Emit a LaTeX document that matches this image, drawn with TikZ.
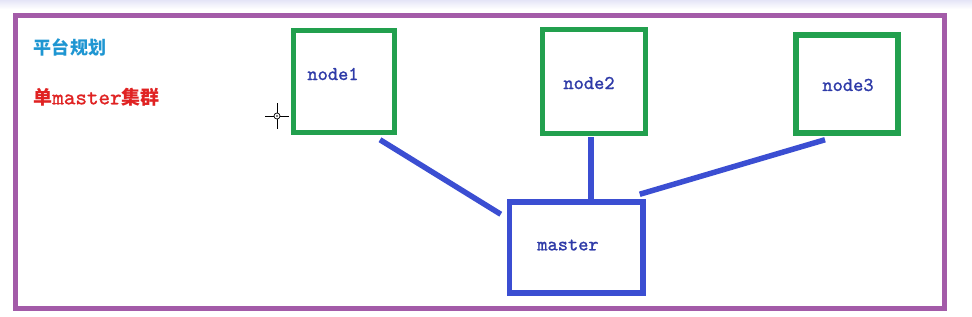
\documentclass[tikz,border=0pt]{standalone}
\usepackage{fontspec}
\newfontfamily\cjk{Noto Sans CJK SC}
\newfontfamily\monob[FakeBold=1.2]{lmmono10-regular.otf}
\usetikzlibrary{calc}
\definecolor{framepurple}{HTML}{A35BA8}
\definecolor{boxgreen}{HTML}{22A04E}
\definecolor{lineblue}{HTML}{3B4ED2}
\definecolor{textblue}{HTML}{2E3AA8}
\definecolor{titlecyan}{HTML}{1E96D2}
\definecolor{titlered}{HTML}{E02222}
\tikzset{
  gbox/.style={draw=boxgreen, line width=5.5pt, rectangle, inner sep=0pt},
  mbox/.style={draw=lineblue, line width=5.5pt, rectangle, inner sep=0pt},
  bline/.style={draw=lineblue, line width=5.5pt},
  lbl/.style={text=textblue, inner sep=0pt, font=\monob\fontsize{19.5}{21}\selectfont},
}
\begin{document}
\begin{tikzpicture}[x=1pt,y=-1pt]
\useasboundingbox (0,0) rectangle (972,316);
\fill[white] (0,0) rectangle (972,316);
\shade[top color=black!30!blue!10!white, bottom color=white] (0,0) rectangle (972,9);
% outer frame
\draw[framepurple, line width=5pt] (15.5,15) rectangle (944.5,308);
% titles
\node[text=titlecyan, inner sep=0pt, font=\cjk\bfseries\fontsize{18}{20}\selectfont] (t1) at (70,47) {平台规划};
\node[text=titlered, inner sep=0pt, font=\fontsize{19}{20}\selectfont] (t2) at (96.5,97) {{\cjk\bfseries 单}{\monob\fontsize{22}{20}\selectfont master}{\cjk\bfseries 集群}};
% boxes
\node[gbox, minimum width=101pt, minimum height=102pt] (n1) at (344,81.5) {};
\node[gbox, minimum width=103pt, minimum height=104pt] (n2) at (594,81.5) {};
\node[gbox, minimum width=102pt, minimum height=98pt] (n3) at (847,84) {};
\node[mbox, minimum width=133.5pt, minimum height=91pt] (m) at (576.25,247.5) {};
% labels
\node[lbl] (l1) at (333,74) {node1};
\node[lbl] (l2) at (589,83) {node2};
\node[lbl] (l3) at (848,85) {node3};
\node[lbl] (lm) at (568,245) {master};
% connectors
\draw[bline] ([xshift=36pt,yshift=-4.5pt]n1.south) -- ([xshift=-6pt,yshift=-15pt]m.north west);
\draw[bline] ([xshift=-3pt,yshift=-1pt]n2.south) -- ([xshift=-3pt]n2.south |- m.north);
\draw[bline] ([xshift=-22pt,yshift=-4pt]n3.south) -- ([xshift=-6pt,yshift=5pt]m.north east);
% cursor
\coordinate (cur) at (277,116);
\draw[black, line width=0.9pt] ($(cur)+(0,-13)$) -- ($(cur)+(0,-3)$) ($(cur)+(0,3)$) -- ($(cur)+(0,13)$)
  ($(cur)+(-12,0)$) -- ($(cur)+(-3,0)$) ($(cur)+(3,0)$) -- ($(cur)+(12,0)$);
\draw[black, line width=0.7pt] (cur) circle (3pt);
\fill[black] (cur) circle (0.8pt);
\end{tikzpicture}
\end{document}
